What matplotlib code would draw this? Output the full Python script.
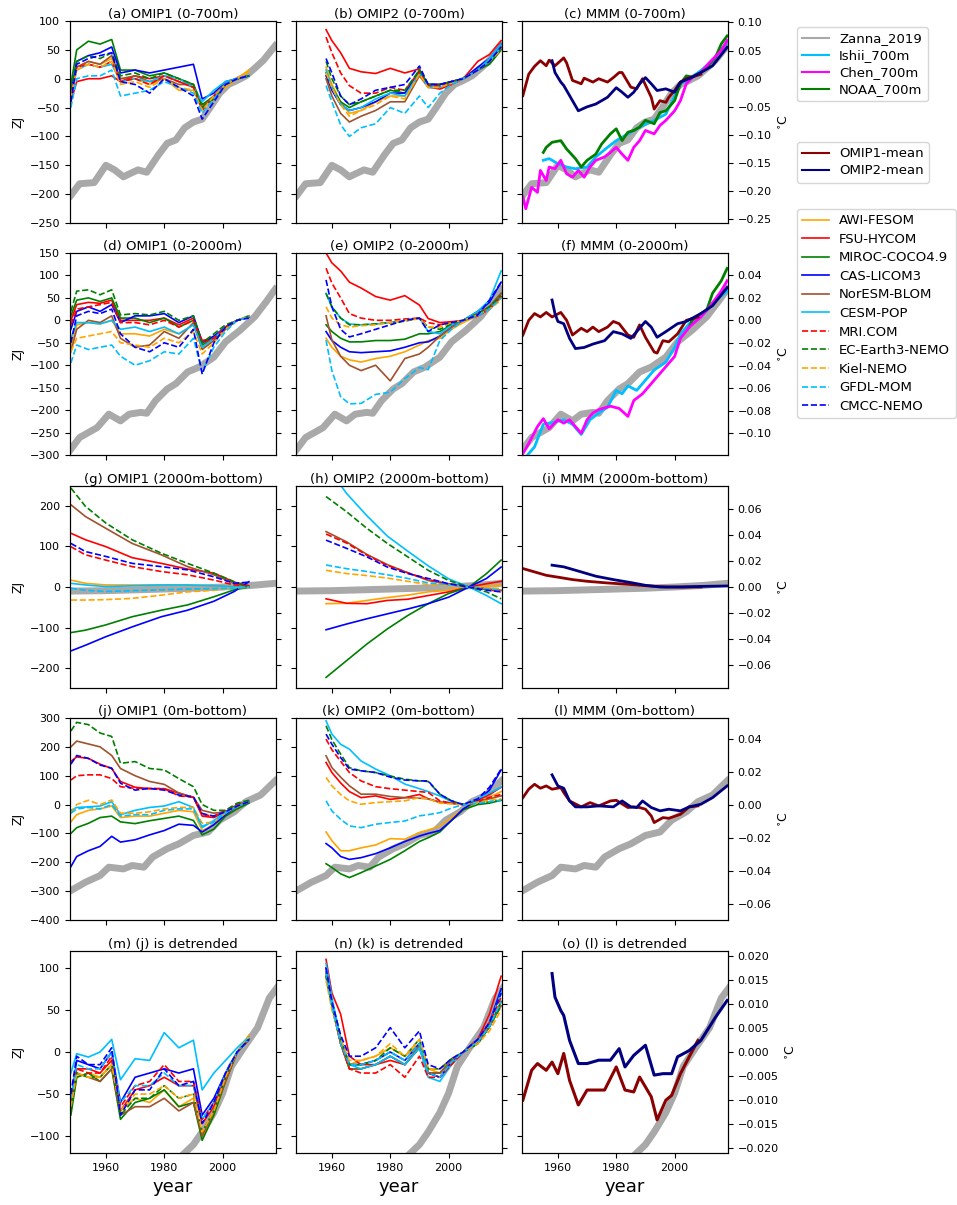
import matplotlib
matplotlib.use('Agg')
import matplotlib.pyplot as plt
from matplotlib.lines import Line2D
from matplotlib.ticker import MultipleLocator

# model names and styles
models = ['AWI-FESOM', 'FSU-HYCOM', 'MIROC-COCO4.9', 'CAS-LICOM3', 'NorESM-BLOM', 'CESM-POP',
          'MRI.COM', 'EC-Earth3-NEMO', 'Kiel-NEMO', 'GFDL-MOM', 'CMCC-NEMO']
colors = ['orange', 'red', 'green', 'blue', 'sienna', 'deepskyblue',
          'red', 'green', 'orange', 'deepskyblue', 'blue']
styles = ['-'] * 6 + ['--'] * 5

yrs1 = [1948, 1950, 1954, 1958, 1962, 1965, 1970, 1975, 1980, 1985, 1990, 1993, 1997, 2001, 2005, 2009]
yrs2 = [1958, 1960, 1963, 1966, 1970, 1975, 1980, 1985, 1990, 1993, 1997, 2001, 2005, 2010, 2014, 2018]
yrs_g = [1948, 1953, 1960, 1969, 1979, 1988, 1997, 2004, 2009]
yrs_h = [1958, 1965, 1972, 1979, 1986, 1993, 2000, 2007, 2013, 2018]

# Zanna_2019 (ZJ)
zanna700_yr = [1948, 1951, 1956, 1960, 1963, 1966, 1968, 1971, 1974, 1978, 1981, 1984, 1987, 1990, 1993, 1996, 1999, 2002, 2005, 2008, 2011, 2014, 2018]
zanna700 = [-202, -182, -180, -150, -158, -170, -165, -158, -162, -132, -112, -106, -85, -75, -70, -48, -25, -10, -3, 5, 18, 32, 57]
zanna2000_yr = [1948, 1951, 1954, 1957, 1961, 1965, 1968, 1972, 1974, 1977, 1981, 1984, 1988, 1992, 1997, 2001, 2006, 2011, 2015, 2018]
zanna2000 = [-287, -261, -250, -239, -209, -224, -209, -205, -207, -179, -153, -141, -115, -104, -82, -48, -22, 8, 42, 69]
zannadeep_yr = [1948, 1960, 1970, 1980, 1990, 2000, 2010, 2018]
zannadeep = [-10, -9, -7, -5, -3, 0, 4, 9]
zannafull_yr = [1948, 1953, 1958, 1961, 1966, 1969, 1973, 1976, 1981, 1985, 1990, 1995, 1999, 2004, 2008, 2013, 2018]
zannafull = [-298, -269, -246, -217, -223, -211, -217, -182, -153, -136, -107, -95, -54, -25, 10, 33, 82]
zannadet_yr = [1987, 1990, 1993, 1997, 2000, 2003, 2007, 2012, 2016, 2019]
zannadet = [-120, -110, -95, -72, -49, -17, 4, 29, 64, 78]

# (a) OMIP1 0-700m, ZJ
a_omip1 = [
    [-30, 20, 30, 25, 35, 0, 0, -10, 0, -20, -20, -50, -30, -15, 0, 15],
    [-40, -5, 0, 0, 5, -5, 5, 0, 5, -5, -15, -45, -35, -10, 0, 5],
    [-10, 50, 65, 60, 68, 15, 15, 5, 10, 0, -10, -45, -30, -10, 0, 5],
    [-25, 30, 40, 45, 55, 10, 15, 10, 15, 20, 25, -35, -25, -5, 0, 5],
    [-35, 20, 30, 25, 40, 0, 5, -5, 0, -10, -10, -50, -30, -10, 0, 5],
    [-30, 15, 25, 20, 25, -5, 0, -5, 5, 0, -15, -40, -20, -5, 0, 5],
    [-35, 20, 25, 20, 30, -5, 0, -10, 5, -5, -15, -55, -30, -10, 0, 5],
    [-20, 30, 40, 35, 45, 5, 10, 0, 10, 0, -10, -50, -35, -10, 0, 5],
    [-30, 15, 25, 20, 30, -10, -5, -15, 0, -15, -20, -55, -30, -10, 0, 12],
    [-50, 0, 5, 5, 15, -30, -25, -20, -5, -15, -25, -60, -35, -10, 0, 5],
    [-40, 25, 35, 40, 45, -5, -10, -25, 0, -15, -30, -70, -40, -10, 0, 5],
]
# (b) OMIP2 0-700m
b_omip2 = [
    [20, -10, -40, -60, -55, -40, -30, -30, 10, -15, -15, -8, 0, 15, 30, 55],
    [85, 66, 45, 18, 12, 9, 18, 10, 17, -14, -18, -10, 0, 30, 42, 66],
    [10, -15, -40, -50, -40, -30, -20, -25, 15, -10, -10, -5, 0, 15, 25, 50],
    [5, -20, -45, -55, -50, -40, -25, -25, 10, -10, -10, -5, 0, 20, 35, 60],
    [0, -30, -60, -75, -65, -55, -40, -40, 5, -15, -15, -8, 0, 15, 30, 55],
    [15, -15, -45, -55, -50, -35, -25, -30, 10, -15, -15, -5, 0, 15, 35, 60],
    [72, 45, 10, -12, -25, -25, -15, -20, 12, -12, -12, -5, 0, 15, 30, 55],
    [30, 0, -30, -45, -40, -30, -20, -20, 15, -10, -10, -5, 0, 15, 30, 55],
    [10, -15, -45, -65, -55, -45, -30, -35, 8, -15, -15, -8, 0, 15, 30, 50],
    [-12, -40, -80, -100, -85, -78, -50, -60, -30, -50, -25, -10, 0, 15, 30, 55],
    [35, 10, -30, -45, -35, -20, -15, -10, 22, -10, -10, -5, 0, 15, 30, 55],
]
# (c) MMM 0-700m, degC
c_mean1_yr = [1948, 1950, 1952, 1954, 1956, 1957, 1959, 1962, 1963, 1965, 1968, 1969, 1972, 1974, 1977, 1979, 1981, 1982, 1985, 1987, 1989, 1992, 1993, 1995, 1997, 1998, 2000, 2002, 2004, 2009]
c_mean1 = [-0.030, 0.008, 0.022, 0.032, 0.023, 0.033, 0.023, 0.037, 0.028, -0.003, -0.009, 0.001, -0.006, 0.000, -0.006, 0.002, 0.011, 0.011, -0.015, -0.018, 0.000, -0.033, -0.054, -0.039, -0.042, -0.033, -0.021, -0.006, 0.000, 0.008]
c_mean2_yr = [1958, 1959, 1961, 1962, 1965, 1967, 1970, 1973, 1977, 1980, 1982, 1984, 1986, 1988, 1990, 1992, 1994, 1997, 2000, 2002, 2005, 2009, 2013, 2018]
c_mean2 = [0.032, 0.011, -0.006, -0.012, -0.039, -0.057, -0.050, -0.045, -0.033, -0.016, -0.024, -0.033, -0.024, -0.009, 0.002, -0.009, -0.021, -0.018, -0.024, -0.006, 0.000, 0.011, 0.023, 0.056]
ishii700_yr = [1955, 1957, 1960, 1963, 1966, 1970, 1973, 1977, 1980, 1984, 1988, 1993, 1997, 2002, 2004, 2009, 2013, 2018]
ishii700 = [-0.145, -0.142, -0.151, -0.157, -0.160, -0.157, -0.139, -0.122, -0.110, -0.098, -0.086, -0.074, -0.063, -0.009, -0.003, 0.014, 0.032, 0.065]
chen700_yr = [1948, 1949, 1951, 1953, 1954, 1956, 1957, 1959, 1961, 1963, 1965, 1967, 1969, 1971, 1973, 1976, 1978, 1980, 1982, 1984, 1986, 1988, 1990, 1993, 1995, 1997, 2000, 2002, 2004, 2006, 2009, 2012, 2016, 2018]
chen700 = [-0.210, -0.231, -0.193, -0.202, -0.163, -0.181, -0.157, -0.160, -0.145, -0.169, -0.175, -0.163, -0.175, -0.157, -0.145, -0.139, -0.131, -0.122, -0.134, -0.145, -0.122, -0.110, -0.092, -0.098, -0.083, -0.074, -0.057, -0.039, -0.009, 0.002, 0.011, 0.029, 0.050, 0.068]
noaa700_yr = [1955, 1956, 1958, 1961, 1963, 1966, 1968, 1970, 1973, 1975, 1978, 1980, 1982, 1984, 1986, 1988, 1990, 1993, 1995, 1997, 2000, 2002, 2004, 2006, 2009, 2011, 2014, 2016, 2018]
noaa700 = [-0.131, -0.122, -0.113, -0.110, -0.125, -0.142, -0.157, -0.145, -0.134, -0.116, -0.098, -0.089, -0.110, -0.095, -0.092, -0.086, -0.074, -0.080, -0.060, -0.057, -0.039, -0.009, 0.005, 0.003, 0.011, 0.020, 0.038, 0.062, 0.076]

# (d) OMIP1 0-2000m
d_omip1 = [
    [-60, -10, -5, -8, 0, -30, -30, -35, -20, -30, -10, -60, -45, -20, 0, 10],
    [0, 35, 40, 38, 45, 0, 0, 0, 5, -10, 5, -45, -40, -15, 0, 8],
    [10, 45, 50, 42, 50, 5, 5, -5, 5, -15, 0, -55, -40, -15, 0, 8],
    [-20, 20, 30, 20, 35, -5, 10, 10, 15, -5, 10, -50, -35, -15, 0, 8],
    [-70, -20, 0, -5, 10, -40, -60, -55, -25, -40, -5, -65, -45, -20, 0, 8],
    [-40, -5, -5, -8, 0, -20, -15, -25, -15, -30, -10, -60, -40, -15, 0, 8],
    [-10, 25, 30, 35, 40, -5, -5, -10, 0, -15, 0, -50, -40, -15, 0, 8],
    [20, 65, 68, 57, 68, 12, 15, 12, 20, 0, 10, -50, -30, -10, 0, 10],
    [-70, -40, -35, -30, -25, -50, -55, -60, -40, -50, -25, -75, -50, -20, 0, 10],
    [-95, -55, -65, -60, -55, -80, -100, -90, -70, -75, -40, -115, -60, -25, 0, 8],
    [-50, 10, 20, 15, 25, -30, -60, -70, -50, -60, -20, -120, -50, -15, 0, 5],
]
# (e) OMIP2 0-2000m
e_omip2 = [
    [-40, -60, -80, -88, -93, -85, -80, -70, -55, -45, -40, -20, -5, 10, 25, 50],
    [150, 128, 110, 85, 72, 53, 45, 55, 34, 4, -5, -3, 0, 10, 25, 53],
    [-10, -25, -40, -48, -48, -45, -45, -42, -30, -30, -25, -10, 0, 15, 30, 60],
    [-25, -45, -60, -70, -72, -70, -68, -60, -50, -48, -35, -15, 0, 20, 40, 85],
    [10, -44, -80, -100, -112, -100, -135, -85, -75, -60, -35, -15, 0, 15, 30, 60],
    [60, 30, 5, -8, -10, -8, -5, 0, 5, -25, -30, -10, 0, 20, 45, 110],
    [116, 83, 50, 15, 5, 0, 0, 3, 5, -5, -10, -5, 0, 10, 25, 55],
    [60, 30, 5, -10, -10, -8, -5, -2, 5, -15, -20, -8, 0, 15, 30, 55],
    [30, 5, -10, -15, -12, -10, -5, 0, 3, -15, -15, -5, 0, 12, 25, 45],
    [-44, -112, -170, -186, -185, -165, -160, -130, -105, -110, -45, -20, 0, 10, 25, 50],
    [90, 30, -20, -37, -30, -20, -10, 0, 5, -25, -10, -5, 0, 12, 45, 85],
]
# (f) MMM 0-2000m, degC
f_mean1_yr = [1948, 1950, 1952, 1954, 1956, 1958, 1961, 1963, 1965, 1968, 1970, 1972, 1974, 1977, 1979, 1981, 1984, 1986, 1988, 1990, 1993, 1994, 1996, 1998, 2001, 2004, 2008]
f_mean1 = [-0.013, 0.000, 0.006, 0.003, 0.007, 0.003, 0.007, 0.000, -0.013, -0.007, -0.010, -0.006, -0.010, -0.006, -0.001, -0.003, -0.013, -0.015, -0.004, -0.015, -0.028, -0.029, -0.018, -0.019, -0.012, 0.000, 0.003]
f_mean2_yr = [1958, 1959, 1960, 1962, 1964, 1966, 1969, 1972, 1976, 1979, 1982, 1985, 1987, 1990, 1992, 1994, 1997, 2001, 2004, 2009, 2013, 2018]
f_mean2 = [0.018, 0.006, -0.001, -0.003, -0.016, -0.025, -0.024, -0.021, -0.018, -0.010, -0.012, -0.016, -0.010, -0.001, -0.006, -0.015, -0.010, -0.003, -0.001, 0.006, 0.013, 0.029]
ishii2000_yr = [1948, 1952, 1955, 1959, 1962, 1965, 1968, 1971, 1974, 1977, 1980, 1982, 1984, 1987, 1990, 1993, 1997, 2000, 2002, 2005, 2009, 2013, 2018]
ishii2000 = [-0.124, -0.112, -0.092, -0.090, -0.088, -0.092, -0.101, -0.088, -0.082, -0.077, -0.062, -0.065, -0.058, -0.062, -0.053, -0.044, -0.037, -0.024, -0.012, -0.003, 0.003, 0.015, 0.026]
chen2000_yr = [1948, 1950, 1953, 1955, 1957, 1960, 1962, 1964, 1968, 1970, 1972, 1974, 1978, 1981, 1984, 1986, 1989, 1992, 1994, 1997, 2000, 2002, 2005, 2009, 2012, 2016, 2018]
chen2000 = [-0.118, -0.109, -0.094, -0.087, -0.096, -0.088, -0.091, -0.088, -0.100, -0.088, -0.082, -0.079, -0.076, -0.078, -0.085, -0.071, -0.065, -0.056, -0.050, -0.041, -0.032, -0.016, -0.006, 0.003, 0.012, 0.026, 0.035]
noaa2000_yr = [2005, 2006, 2009, 2011, 2013, 2016, 2018]
noaa2000 = [-0.006, 0.000, 0.006, 0.009, 0.024, 0.035, 0.046]

# (g) OMIP1 2000m-bottom
g_omip1 = [
    [17, 9, 5, 5, 5, 5, 3, 1, 0],
    [132, 116, 99, 72, 58, 44, 34, 12, 3],
    [-112, -106, -93, -73, -57, -44, -24, -7, 0],
    [-157, -143, -122, -98, -73, -57, -35, -11, 13],
    [202, 173, 144, 107, 79, 50, 30, 9, 0],
    [9, 5, 1, 3, 5, 5, 3, 1, 0],
    [99, 79, 66, 50, 38, 30, 17, 5, 3],
    [243, 198, 157, 116, 83, 58, 34, 13, 0],
    [-32, -32, -31, -28, -20, -12, -8, -3, 0],
    [-3, -8, -11, -9, -7, -5, -4, -3, 0],
    [107, 87, 75, 58, 50, 42, 25, 9, 12],
]
# (h) OMIP2 2000m-bottom
h_omip2 = [
    [-41, -40, -33, -26, -20, -12, -8, 0, 2, 4],
    [-29, -40, -41, -33, -30, -21, -12, 0, 8, 14],
    [-222, -181, -140, -103, -70, -41, -16, 0, 33, 66],
    [-105, -91, -78, -66, -54, -41, -25, 0, 21, 49],
    [136, 111, 80, 55, 35, 16, 6, 0, -4, -8],
    [300, 230, 175, 125, 88, 52, 20, 0, -21, -41],
    [130, 108, 78, 53, 35, 18, 8, 0, -6, -12],
    [222, 185, 144, 107, 74, 41, 16, 0, -12, -29],
    [41, 33, 28, 22, 14, 6, 3, 0, -2, -4],
    [54, 45, 38, 30, 21, 10, 6, 0, -4, -8],
    [115, 95, 74, 49, 33, 21, 8, 0, -8, -12],
]
# (i) MMM 2000m-bottom, degC
i_mean1_yr = [1948, 1952, 1956, 1961, 1965, 1970, 1977, 1984, 1990, 1997, 2002, 2009]
i_mean1 = [0.0142, 0.0116, 0.0090, 0.0072, 0.0057, 0.0044, 0.0031, 0.0021, 0.0010, 0.0, 0.0, 0.0]
i_mean2_yr = [1958, 1962, 1968, 1973, 1979, 1985, 1990, 1995, 2002, 2010, 2018]
i_mean2 = [0.0168, 0.0155, 0.0116, 0.0083, 0.0057, 0.0034, 0.0013, 0.0, 0.0, 0.0005, 0.0008]

# (j) OMIP1 0m-bottom
j_omip1 = [
    [-60, -35, -20, -15, -5, -45, -40, -40, -30, -20, -25, -90, -70, -40, -15, 10],
    [150, 165, 160, 140, 125, 80, 60, 55, 55, 40, 25, -40, -45, -25, -5, 10],
    [-100, -80, -65, -45, -40, -60, -66, -56, -48, -40, -55, -105, -85, -40, -15, 5],
    [-215, -180, -160, -145, -110, -130, -122, -105, -90, -68, -72, -95, -70, -35, -5, 10],
    [200, 220, 210, 200, 170, 125, 100, 80, 70, 40, 25, -20, -30, -25, 0, 10],
    [-20, -10, -8, -5, 10, -35, -20, -10, -5, 10, -10, -80, -55, -25, -5, 10],
    [85, 100, 103, 103, 90, 62, 56, 56, 55, 30, 25, -35, -40, -20, 0, 10],
    [255, 285, 277, 248, 236, 143, 149, 125, 120, 90, 62, 0, -20, -20, 5, 15],
    [-30, 0, 15, 0, 16, -30, -30, -25, -15, -10, -10, -65, -60, -30, -5, 10],
    [-30, -15, -10, -15, 0, -40, -35, -35, -20, -15, -15, -75, -60, -30, -5, 10],
    [140, 170, 160, 137, 126, 74, 50, 56, 50, 33, 27, -31, -40, -25, -5, 10],
]
# (k) OMIP2 0m-bottom
k_omip2 = [
    [-95, -125, -160, -160, -150, -140, -118, -120, -97, -88, -75, -45, -15, 10, 25, 45],
    [146, 111, 75, 45, 24, 30, 18, 24, 35, 20, 8, 5, 0, 15, 35, 60],
    [-205, -218, -240, -253, -236, -213, -190, -160, -128, -115, -95, -55, -18, 0, 5, 15],
    [-135, -150, -180, -190, -184, -170, -150, -128, -109, -100, -90, -55, -15, 15, 50, 120],
    [169, 128, 95, 65, 36, 36, 28, 24, 22, 20, 8, 5, 0, 10, 20, 30],
    [290, 244, 209, 192, 151, 123, 100, 71, 55, 45, 30, 10, 0, 20, 40, 60],
    [227, 190, 150, 111, 82, 62, 55, 50, 45, 42, 13, 5, 0, 10, 25, 35],
    [273, 225, 175, 128, 117, 111, 99, 88, 82, 80, 36, 13, 0, 5, 10, 15],
    [94, 65, 35, 13, 1, 7, 10, 13, 24, 20, 5, 2, 0, 8, 15, 20],
    [13, -22, -51, -74, -80, -68, -62, -57, -39, -35, -28, -12, 0, 5, 10, 15],
    [244, 209, 163, 123, 117, 111, 95, 85, 82, 82, 36, 13, 0, 20, 60, 123],
]
# (l) MMM 0m-bottom, degC
l_mean1_yr = [1948, 1950, 1952, 1954, 1956, 1958, 1961, 1962, 1964, 1968, 1971, 1974, 1978, 1980, 1984, 1986, 1988, 1990, 1992, 1993, 1996, 1998, 2002, 2005, 2008]
l_mean1 = [0.0042, 0.0093, 0.0123, 0.0099, 0.0113, 0.0093, 0.0103, 0.0073, 0.0022, -0.0014, 0.0012, -0.0008, 0.0022, 0.0026, -0.0018, -0.0014, -0.0018, -0.0028, -0.0069, -0.0109, -0.0079, -0.0083, -0.0059, -0.0014, -0.0008]
l_mean2_yr = [1958, 1960, 1962, 1964, 1966, 1970, 1974, 1979, 1982, 1985, 1987, 1989, 1992, 1995, 1998, 2002, 2005, 2009, 2013, 2018]
l_mean2 = [0.0180, 0.0113, 0.0099, 0.0022, -0.0014, -0.0014, -0.0008, -0.0014, 0.0022, -0.0014, -0.0018, 0.0022, -0.0018, -0.0038, -0.0028, -0.0038, -0.0014, 0.0002, 0.0042, 0.0113]

# (m) (j) detrended
m_omip1 = [
    [-70, -30, -25, -30, -15, -70, -55, -60, -45, -65, -55, -100, -75, -35, 0, 20],
    [-55, -20, -20, -25, -10, -70, -45, -40, -30, -40, -40, -85, -65, -30, 0, 15],
    [-75, -30, -25, -35, -20, -80, -60, -55, -45, -65, -60, -105, -75, -35, 0, 15],
    [-60, -10, -15, -20, 0, -60, -30, -25, -20, -25, -20, -75, -55, -25, 0, 15],
    [-65, -25, -30, -35, -20, -75, -65, -65, -55, -70, -60, -100, -70, -35, 0, 15],
    [-25, -2, -6, 0, 15, -33, -8, -10, 23, 5, 14, -45, -25, -10, 5, 18],
    [-60, -20, -25, -25, -5, -65, -40, -35, -15, -35, -35, -80, -60, -30, 0, 15],
    [-70, -25, -30, -30, -15, -75, -55, -55, -40, -55, -50, -95, -70, -30, 0, 15],
    [-65, -25, -30, -30, -15, -70, -50, -50, -40, -55, -50, -95, -70, -30, 0, 18],
    [-55, -15, -20, -20, 0, -60, -40, -40, -25, -40, -40, -80, -60, -25, 0, 15],
    [-50, -5, -15, -15, 5, -75, -45, -45, -20, -40, -35, -85, -60, -25, 0, 15],
]
# (n) (k) detrended
n_omip2 = [
    [95, 60, 15, -15, -10, -5, 5, -5, 10, -20, -25, -10, 0, 10, 30, 60],
    [110, 70, 45, -5, -15, -15, -10, -15, 5, -25, -30, -15, 0, 15, 45, 90],
    [90, 55, 10, -20, -20, -15, -5, -15, 5, -25, -25, -10, 0, 10, 30, 60],
    [100, 60, 15, -15, -15, -10, 0, -10, 10, -25, -30, -12, 0, 15, 35, 75],
    [95, 55, 10, -20, -20, -15, -5, -15, 8, -25, -25, -10, 0, 10, 30, 55],
    [105, 65, 15, -15, -20, -15, -5, -15, 5, -30, -35, -15, 0, 15, 35, 70],
    [95, 55, 10, -20, -25, -25, -15, -30, -5, -30, -30, -15, 0, 15, 35, 65],
    [90, 55, 15, -15, -15, -10, 5, -5, 15, -20, -20, -8, 0, 10, 30, 55],
    [85, 50, 15, -10, -10, -5, 10, -5, 15, -20, -20, -8, 0, 10, 25, 50],
    [95, 55, 10, -15, -15, -10, 0, -10, 10, -25, -30, -12, 0, 12, 30, 60],
    [100, 60, 20, -5, -5, 5, 29, 5, 25, -15, -20, -8, 0, 15, 35, 70],
]
# (o) (l) detrended, degC
o_mean1_yr = [1948, 1951, 1953, 1956, 1958, 1960, 1962, 1964, 1967, 1970, 1973, 1976, 1980, 1983, 1986, 1988, 1992, 1994, 1997, 1999, 2002, 2005, 2008]
o_mean1 = [-0.0100, -0.0038, -0.0024, -0.0038, -0.0021, -0.0045, -0.0003, -0.0059, -0.0110, -0.0079, -0.0079, -0.0079, -0.0031, -0.0079, -0.0083, -0.0052, -0.0093, -0.0141, -0.0100, -0.0090, -0.0045, -0.0010, 0.0024]
o_mean2_yr = [1958, 1959, 1961, 1962, 1964, 1967, 1970, 1974, 1978, 1981, 1983, 1986, 1990, 1993, 1996, 1999, 2001, 2005, 2009, 2014, 2018]
o_mean2 = [0.0163, 0.0114, 0.0086, 0.0076, 0.0024, -0.0024, -0.0024, -0.0017, -0.0017, 0.0007, -0.0031, -0.0007, 0.0014, -0.0048, -0.0045, -0.0045, -0.0010, 0.0003, 0.0024, 0.0072, 0.0107]

titles = [['(a) OMIP1 (0-700m)', '(b) OMIP2 (0-700m)', '(c) MMM (0-700m)'],
          ['(d) OMIP1 (0-2000m)', '(e) OMIP2 (0-2000m)', '(f) MMM (0-2000m)'],
          ['(g) OMIP1 (2000m-bottom)', '(h) OMIP2 (2000m-bottom)', '(i) MMM (2000m-bottom)'],
          ['(j) OMIP1 (0m-bottom)', '(k) OMIP2 (0m-bottom)', '(l) MMM (0m-bottom)'],
          ['(m) (j) is detrended', '(n) (k) is detrended', '(o) (l) is detrended']]

row_ylim = [(-250, 100), (-300, 150), (-248, 248), (-400, 300), (-120, 120)]
row_factor = [975, 2517, 3192, 5720, 5720]   # ZJ per degC
row_step = [50, 50, 100, 100, 50]
row_cstep = [0.05, 0.02, 0.02, 0.02, 0.005]

fig = plt.figure(figsize=(9.57, 12.05), dpi=100)
W, H = 957., 1205.
col_x = [70, 296, 522]
row_y = [21, 253, 486, 718, 951]
pw, ph = 206, 202

ZC = 'darkgray'

def panel(r, c):
    ax = fig.add_axes([col_x[c] / W, 1 - (row_y[r] + ph) / H, pw / W, ph / H])
    ax.set_xlim(1947.7, 2018.3)
    ax.set_ylim(*row_ylim[r])
    ax.set_xticks([1960, 1980, 2000])
    ax.yaxis.set_major_locator(MultipleLocator(row_step[r]))
    ax.tick_params(labelsize=8)
    ax2 = ax.twinx()
    ax2.set_ylim(row_ylim[r][0] / row_factor[r], row_ylim[r][1] / row_factor[r])
    ax2.yaxis.set_major_locator(MultipleLocator(row_cstep[r]))
    ax2.tick_params(labelsize=8)
    if c != 0:
        ax.tick_params(labelleft=False)
    else:
        ax.set_ylabel('ZJ', fontsize=9)
    if c != 2:
        ax2.tick_params(labelright=False)
    else:
        ax2.set_ylabel('$^{\\circ}$C', fontsize=9)
    if r != 4:
        ax.tick_params(labelbottom=False)
    else:
        ax.set_xlabel('year', fontsize=13)
    ax.set_title(titles[r][c], fontsize=9.5, pad=1)
    return ax, ax2

def models_on(ax, yrs, data):
    for vals, col, ls in zip(data, colors, styles):
        ax.plot(yrs, vals, color=col, ls=ls, lw=1.2)

def zanna_on(ax, yrs, vals):
    ax.plot(yrs, vals, color=ZC, lw=5, zorder=1)

# row 1
ax, ax2 = panel(0, 0); zanna_on(ax, zanna700_yr, zanna700); models_on(ax, yrs1, a_omip1)
ax, ax2 = panel(0, 1); zanna_on(ax, zanna700_yr, zanna700); models_on(ax, yrs2, b_omip2)
ax, ax2 = panel(0, 2); zanna_on(ax, zanna700_yr, zanna700)
ax2.plot(ishii700_yr, ishii700, color='deepskyblue', lw=2)
ax2.plot(noaa700_yr, noaa700, color='green', lw=2)
ax2.plot(chen700_yr, chen700, color='magenta', lw=2)
ax2.plot(c_mean1_yr, c_mean1, color='darkred', lw=2)
ax2.plot(c_mean2_yr, c_mean2, color='navy', lw=2)

# row 2
ax, ax2 = panel(1, 0); zanna_on(ax, zanna2000_yr, zanna2000); models_on(ax, yrs1, d_omip1)
ax, ax2 = panel(1, 1); zanna_on(ax, zanna2000_yr, zanna2000); models_on(ax, yrs2, e_omip2)
ax, ax2 = panel(1, 2); zanna_on(ax, zanna2000_yr, zanna2000)
ax2.plot(ishii2000_yr, ishii2000, color='deepskyblue', lw=2)
ax2.plot(noaa2000_yr, noaa2000, color='green', lw=2)
ax2.plot(chen2000_yr, chen2000, color='magenta', lw=2)
ax2.plot(f_mean1_yr, f_mean1, color='darkred', lw=2)
ax2.plot(f_mean2_yr, f_mean2, color='navy', lw=2)

# row 3
ax, ax2 = panel(2, 0); zanna_on(ax, zannadeep_yr, zannadeep); models_on(ax, yrs_g, g_omip1)
ax, ax2 = panel(2, 1); zanna_on(ax, zannadeep_yr, zannadeep); models_on(ax, yrs_h, h_omip2)
ax, ax2 = panel(2, 2); zanna_on(ax, zannadeep_yr, zannadeep)
ax2.plot(i_mean1_yr, i_mean1, color='darkred', lw=2)
ax2.plot(i_mean2_yr, i_mean2, color='navy', lw=2)

# row 4
ax, ax2 = panel(3, 0); zanna_on(ax, zannafull_yr, zannafull); models_on(ax, yrs1, j_omip1)
ax, ax2 = panel(3, 1); zanna_on(ax, zannafull_yr, zannafull); models_on(ax, yrs2, k_omip2)
ax, ax2 = panel(3, 2); zanna_on(ax, zannafull_yr, zannafull)
ax2.plot(l_mean1_yr, l_mean1, color='darkred', lw=2)
ax2.plot(l_mean2_yr, l_mean2, color='navy', lw=2)

# row 5
ax, ax2 = panel(4, 0); zanna_on(ax, zannadet_yr, zannadet); models_on(ax, yrs1, m_omip1)
ax, ax2 = panel(4, 1); zanna_on(ax, zannadet_yr, zannadet); models_on(ax, yrs2, n_omip2)
ax, ax2 = panel(4, 2); zanna_on(ax, zannadet_yr, zannadet)
ax2.plot(o_mean1_yr, o_mean1, color='darkred', lw=2.2)
ax2.plot(o_mean2_yr, o_mean2, color='navy', lw=2.2)

# legends
leg_kw = dict(loc='upper left', fontsize=9.5, borderaxespad=0)
obs_h = [Line2D([], [], color=ZC, lw=1.5), Line2D([], [], color='deepskyblue', lw=1.5),
         Line2D([], [], color='magenta', lw=1.5), Line2D([], [], color='green', lw=1.5)]
fig.legend(obs_h, ['Zanna_2019', 'Ishii_700m', 'Chen_700m', 'NOAA_700m'],
           bbox_to_anchor=(797 / W, 1 - 27 / H), labelspacing=0.3, **leg_kw)
mean_h = [Line2D([], [], color='darkred', lw=1.5), Line2D([], [], color='navy', lw=1.5)]
fig.legend(mean_h, ['OMIP1-mean', 'OMIP2-mean'],
           bbox_to_anchor=(797 / W, 1 - 142 / H), labelspacing=0.3, **leg_kw)
mod_h = [Line2D([], [], color=c, ls=s, lw=1.2) for c, s in zip(colors, styles)]
fig.legend(mod_h, models, bbox_to_anchor=(797 / W, 1 - 209 / H), labelspacing=0.42, **leg_kw)

fig.savefig('out.png', dpi=100)
